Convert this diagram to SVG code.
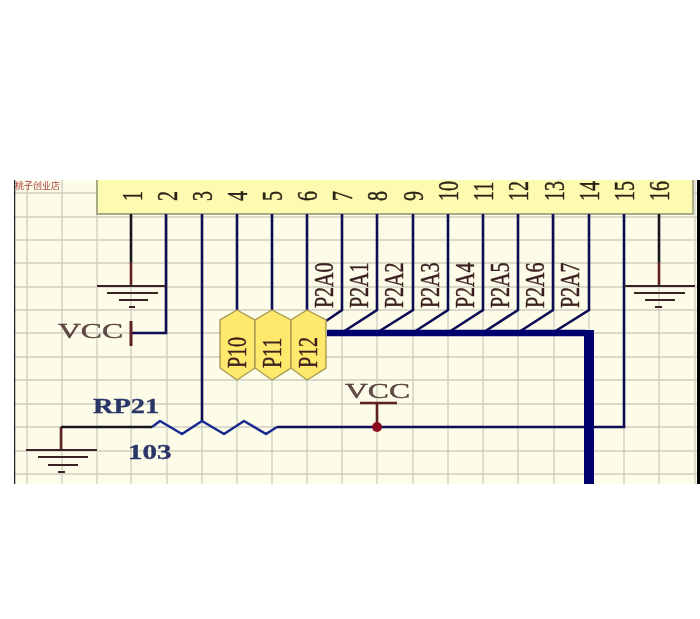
<svg xmlns="http://www.w3.org/2000/svg" width="700" height="619" viewBox="0 0 700 619">
<style>
.grid{stroke:#cfcec0;stroke-width:1.3;fill:none}
.wire{stroke:#0b0b55;stroke-width:2.6;fill:none}
.blk{stroke:#14141e;stroke-width:2.6;fill:none}
.pow{stroke:#5e2020;stroke-width:2.6;fill:none}
.gnd{stroke:#3a2020;stroke-width:2.2;fill:none}
.lbl{font-family:"Liberation Serif","Times New Roman",serif;font-size:20px;fill:#3c2020;stroke:#3c2020;stroke-width:.3}
.num{font-family:"Liberation Serif","Times New Roman",serif;font-size:20px;fill:#2c2418;stroke:#2c2418;stroke-width:.3}
.hex{fill:#ffe96c;stroke:#a89a50;stroke-width:1.4}
</style>
<defs><filter id="soft" x="0" y="0" width="100%" height="100%"><feGaussianBlur stdDeviation="0.5"/></filter></defs>
<rect width="700" height="619" fill="#ffffff"/>
<g filter="url(#soft)">
<rect x="14" y="180" width="686" height="304" fill="#fcfce8"/>
<g id="grid" class="grid">
<path d="M27 180V484M62 180V484M97 180V484M131 180V484M167 180V484M202 180V484M237 180V484M272 180V484M307 180V484M342 180V484M377 180V484M413 180V484M448 180V484M483 180V484M518 180V484M554 180V484M589 180V484M624 180V484M659 180V484M695 180V484"/>
<path d="M14 193H697M14 217H697M14 240H697M14 263H697M14 287H697M14 310H697M14 333H697M14 357H697M14 380H697M14 404H697M14 427H697M14 451H697M14 474H697"/>
</g>
<path d="M14.5 180V484" stroke="#222" stroke-width="1.5"/>
<path d="M698.5 180V484" stroke="#000" stroke-width="3"/>
<text x="15" y="189" font-family="'Noto Sans CJK SC','Liberation Sans',sans-serif" font-size="9" fill="#b0403c">桃子创业店</text>
<g id="connector-header">
<rect x="97" y="180" width="596" height="34" fill="#fdfbb0"/>
<path d="M97 180V214H693V180" fill="none" stroke="#8f8f70" stroke-width="1.4"/>
<g class="num">
<text transform="translate(142 201) rotate(-90) scale(1 1.45)">1</text>
<text transform="translate(177 201) rotate(-90) scale(1 1.45)">2</text>
<text transform="translate(212 201) rotate(-90) scale(1 1.45)">3</text>
<text transform="translate(247 201) rotate(-90) scale(1 1.45)">4</text>
<text transform="translate(282 201) rotate(-90) scale(1 1.45)">5</text>
<text transform="translate(317 201) rotate(-90) scale(1 1.45)">6</text>
<text transform="translate(352 201) rotate(-90) scale(1 1.45)">7</text>
<text transform="translate(387 201) rotate(-90) scale(1 1.45)">8</text>
<text transform="translate(423 201) rotate(-90) scale(1 1.45)">9</text>
<text transform="translate(458 201) rotate(-90) scale(1 1.45)">10</text>
<text transform="translate(493 201) rotate(-90) scale(1 1.45)">11</text>
<text transform="translate(528 201) rotate(-90) scale(1 1.45)">12</text>
<text transform="translate(564 201) rotate(-90) scale(1 1.45)">13</text>
<text transform="translate(599 201) rotate(-90) scale(1 1.45)">14</text>
<text transform="translate(634 201) rotate(-90) scale(1 1.45)">15</text>
<text transform="translate(669 201) rotate(-90) scale(1 1.45)">16</text>
</g>
</g>
<g id="connectors">
<path class="blk" d="M131 214V262"/>
<path class="pow" d="M131 262V286"/>
<path class="wire" d="M166 214V333H131"/>
<path class="wire" d="M202 214V421"/>
<path class="wire" d="M237 214V310M272 214V310M307 214V310"/>
<path class="wire" d="M342 214V310L326 321"/>
<path class="wire" d="M377 214V310L343 332M413 214V310L378 332M448 214V310L414 332M483 214V310L449 332M518 214V310L484 332M553 214V310L519 332M589 214V310L554 332"/>
<path class="wire" d="M624 214V427H277"/>
<path class="wire" stroke-linejoin="round" d="M152 427L160 421L182 434L202 421L224 434L244 421L266 434L277 427" style="stroke:#1a2a90"/>
<path class="blk" d="M152 427H61"/>
<path class="pow" d="M61 427V450"/>
<path class="blk" d="M659 214V262"/>
<path class="pow" d="M659 262V286"/>
<path d="M327 333H586" stroke="#00006e" stroke-width="6.5" fill="none"/>
<path d="M589 330V484" stroke="#00006e" stroke-width="10" fill="none"/>
<path class="pow" d="M377 403V427"/>
</g>
<g id="gnd-1" class="gnd"><path d="M97 286H166M107 293H158M119 300H148M129 307H135"/></g>
<g id="gnd-2" class="gnd"><path d="M26 450H97M38 457H88M48 465H78M58 472H65"/></g>
<g id="gnd-3" class="gnd"><path d="M624 286H695M634 293H685M645 300H675M655 307H662"/></g>
<g id="vcc-1">
<path d="M131 321V346" stroke="#5e2020" stroke-width="3"/>
<text class="lbl" transform="translate(58 338) scale(1.58 1)" fill-opacity=".8">VCC</text>
</g>
<g id="vcc-2">
<path d="M360 403H397" stroke="#5e2020" stroke-width="2.4"/>
<circle cx="377" cy="427" r="5" fill="#8a1020"/>
<text class="lbl" transform="translate(345 398) scale(1.58 1)" fill-opacity=".8">VCC</text>
</g>
<g id="rp21">
<text class="lbl" style="fill:#2a3668;stroke:#2a3668;font-weight:bold" transform="translate(93 413) scale(1.42 1)">RP21</text>
<text class="lbl" style="fill:#2a3668;stroke:#2a3668;font-weight:bold" transform="translate(128 459) scale(1.45 1)">103</text>
</g>
<g id="net-labels" class="lbl">
<text transform="translate(333 308) rotate(-90) scale(1 1.4)">P2A0</text>
<text transform="translate(368 308) rotate(-90) scale(1 1.4)">P2A1</text>
<text transform="translate(403 308) rotate(-90) scale(1 1.4)">P2A2</text>
<text transform="translate(439 308) rotate(-90) scale(1 1.4)">P2A3</text>
<text transform="translate(474 308) rotate(-90) scale(1 1.4)">P2A4</text>
<text transform="translate(509 308) rotate(-90) scale(1 1.4)">P2A5</text>
<text transform="translate(544 308) rotate(-90) scale(1 1.4)">P2A6</text>
<text transform="translate(579 308) rotate(-90) scale(1 1.4)">P2A7</text>
</g>
<g id="p10"><path class="hex" d="M237 310L255 320V368L237 380L220 368V320Z"/><text class="lbl" transform="translate(246 368) rotate(-90) scale(1 1.35)">P10</text></g>
<g id="p11"><path class="hex" d="M272 310L291 320V368L272 380L255 368V320Z"/><text class="lbl" transform="translate(281 368) rotate(-90) scale(1 1.35)">P11</text></g>
<g id="p12"><path class="hex" d="M307 310L326 320V368L307 380L291 368V320Z"/><text class="lbl" transform="translate(317 368) rotate(-90) scale(1 1.35)">P12</text></g>
</g>
</svg>
